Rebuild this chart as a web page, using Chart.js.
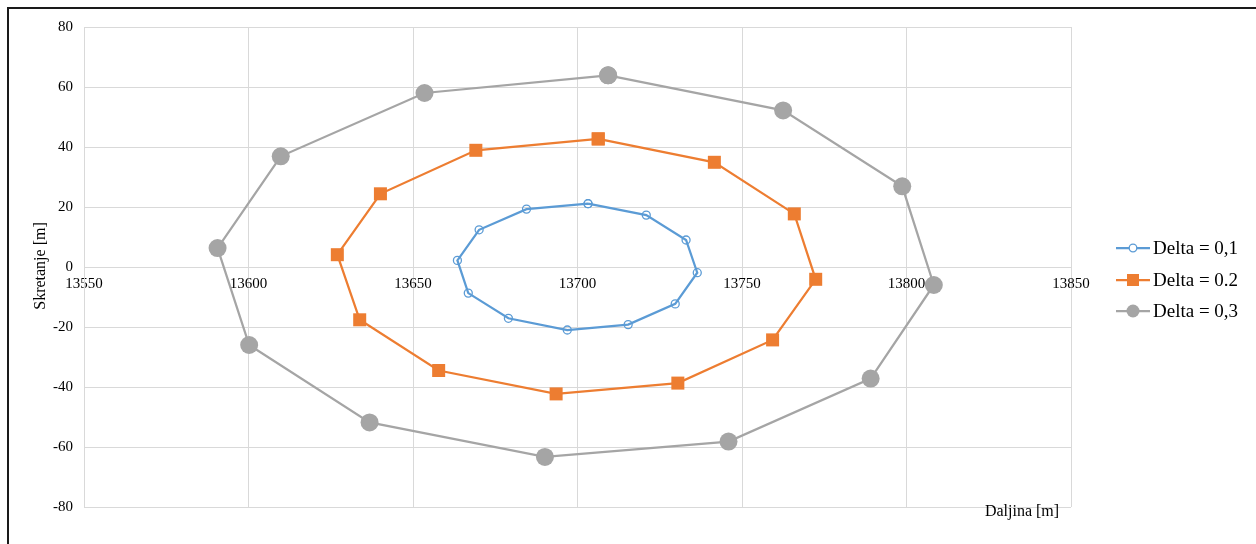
<!DOCTYPE html>
<html><head><meta charset="utf-8">
<script src="https://cdn.jsdelivr.net/npm/chart.js@4"></script>
<style>html,body{margin:0;padding:0;background:#fff;overflow:hidden}#wrap{width:1256px;height:544px;}</style>
</head><body><div id="wrap"><canvas id="c" width="1256" height="544"></canvas></div>
<script>
const seriesLabels = ['Delta = 0,1', 'Delta = 0.2', 'Delta = 0,3'];
const seriesColors = ['#5B9BD5', '#ED7D31', '#A5A5A5'];

const delta1X = [13703.2, 13720.9, 13733.0, 13736.4, 13729.7, 13715.4, 13696.9, 13679.0, 13666.8, 13663.5, 13670.1, 13684.5, 13703.2];
const delta1Y = [21.1, 17.3, 9.0, -1.9, -12.3, -19.2, -21.0, -17.1, -8.7, 2.2, 12.4, 19.3, 21.1];

const delta2X = [13706.3, 13741.6, 13765.9, 13772.4, 13759.3, 13730.5, 13693.5, 13657.8, 13633.8, 13627.0, 13640.1, 13669.1, 13706.3];
const delta2Y = [42.7, 34.9, 17.7, -4.1, -24.3, -38.7, -42.3, -34.5, -17.6, 4.1, 24.4, 38.9, 42.7];

const delta3X = [13709.3, 13762.5, 13798.7, 13808.3, 13789.1, 13745.9, 13690.1, 13636.8, 13600.2, 13590.6, 13609.8, 13653.5, 13709.3];
const delta3Y = [63.9, 52.2, 26.9, -6.0, -37.2, -58.2, -63.3, -51.8, -26.0, 6.3, 36.9, 58.0, 63.9];

const xTicks = [13550, 13600, 13650, 13700, 13750, 13800, 13850];
const yTicks = [-80, -60, -40, -20, 0, 20, 40, 60, 80];
const xTitle = 'Daljina [m]';
const yTitle = 'Skretanje [m]';

const FONT = "'Liberation Serif', 'Times New Roman', serif";
const GRID = '#d9d9d9';
const TXT = '#000000';

function pts(xs, ys) { return xs.map((x, i) => ({ x: x, y: ys[i] })); }

const markerStyles = [
  { pointStyle: 'circle', radius: 4, bg: 'rgba(255,255,255,0)', bw: 1.3 },
  { pointStyle: 'rect', radius: 9.2, bg: seriesColors[1], bw: 0 },
  { pointStyle: 'circle', radius: 9, bg: seriesColors[2], bw: 0 }
];

const allX = [delta1X, delta2X, delta3X];
const allY = [delta1Y, delta2Y, delta3Y];

const datasets = seriesLabels.map((lab, i) => ({
  label: lab,
  data: pts(allX[i], allY[i]),
  showLine: true,
  borderColor: seriesColors[i],
  borderWidth: 2.25,
  pointStyle: markerStyles[i].pointStyle,
  pointRadius: markerStyles[i].radius,
  pointBackgroundColor: markerStyles[i].bg,
  pointBorderColor: seriesColors[i],
  pointBorderWidth: markerStyles[i].bw,
  pointHoverRadius: markerStyles[i].radius,
  fill: false,
  tension: 0,
  order: 3 - i
}));

const decor = {
  id: 'decor',
  afterDraw(chart) {
    const ctx = chart.ctx;
    ctx.save();
    // frame
    ctx.strokeStyle = '#1a1a1a';
    ctx.lineWidth = 2;
    ctx.beginPath();
    ctx.moveTo(8, 544);
    ctx.lineTo(8, 8);
    ctx.lineTo(1256, 8);
    ctx.stroke();
    // axis titles
    ctx.fillStyle = TXT;
    ctx.font = "16px " + FONT;
    ctx.textAlign = 'center';
    ctx.textBaseline = 'alphabetic';
    ctx.fillText(xTitle, 1022, 516);
    ctx.save();
    ctx.translate(45, 266);
    ctx.rotate(-Math.PI / 2);
    ctx.fillText(yTitle, 0, 0);
    ctx.restore();
    // legend
    const rows = [248, 280, 311];
    chart.data.datasets.forEach((ds, i) => {
      const y = rows[i];
      ctx.strokeStyle = ds.borderColor;
      ctx.lineWidth = 2.25;
      ctx.beginPath();
      ctx.moveTo(1116, y);
      ctx.lineTo(1150, y);
      ctx.stroke();
      const cx = 1133;
      if (i === 0) {
        ctx.fillStyle = '#ffffff';
        ctx.beginPath(); ctx.arc(cx, y, 3.8, 0, Math.PI * 2); ctx.fill();
        ctx.lineWidth = 1.3; ctx.strokeStyle = ds.borderColor; ctx.stroke();
      } else if (i === 1) {
        ctx.fillStyle = ds.borderColor;
        ctx.fillRect(cx - 6, y - 6, 12, 12);
      } else {
        ctx.fillStyle = ds.borderColor;
        ctx.beginPath(); ctx.arc(cx, y, 6.5, 0, Math.PI * 2); ctx.fill();
      }
      ctx.fillStyle = TXT;
      ctx.font = "19px " + FONT;
      ctx.textAlign = 'left';
      ctx.textBaseline = 'middle';
      ctx.fillText(ds.label, 1153, y + 1);
    });
    ctx.restore();
  }
};

new Chart(document.getElementById('c'), {
  type: 'scatter',
  data: { datasets: datasets },
  options: {
    responsive: false,
    animation: false,
    devicePixelRatio: 1,
    layout: { padding: { left: 0, top: 27, right: 185, bottom: 37 } },
    plugins: { legend: { display: false }, tooltip: { enabled: false } },
    scales: {
      x: {
        type: 'linear',
        position: { y: 0 },
        min: 13550, max: 13850,
        afterBuildTicks: s => { s.ticks = xTicks.map(v => ({ value: v })); },
        grid: { color: GRID, lineWidth: 1, drawTicks: false },
        border: { color: GRID, width: 1 },
        ticks: { color: TXT, font: { family: FONT, size: 15 }, padding: 8, maxRotation: 0, autoSkip: false, callback: v => String(v) }
      },
      y: {
        type: 'linear',
        min: -80, max: 80,
        afterBuildTicks: s => { s.ticks = yTicks.map(v => ({ value: v })); },
        afterFit: s => { s.width = 84; },
        grid: { color: GRID, lineWidth: 1, drawTicks: false },
        border: { color: GRID, width: 1 },
        ticks: { color: TXT, font: { family: FONT, size: 15 }, padding: 11, callback: v => String(v) }
      }
    }
  },
  plugins: [decor]
});
</script>
</body></html>
